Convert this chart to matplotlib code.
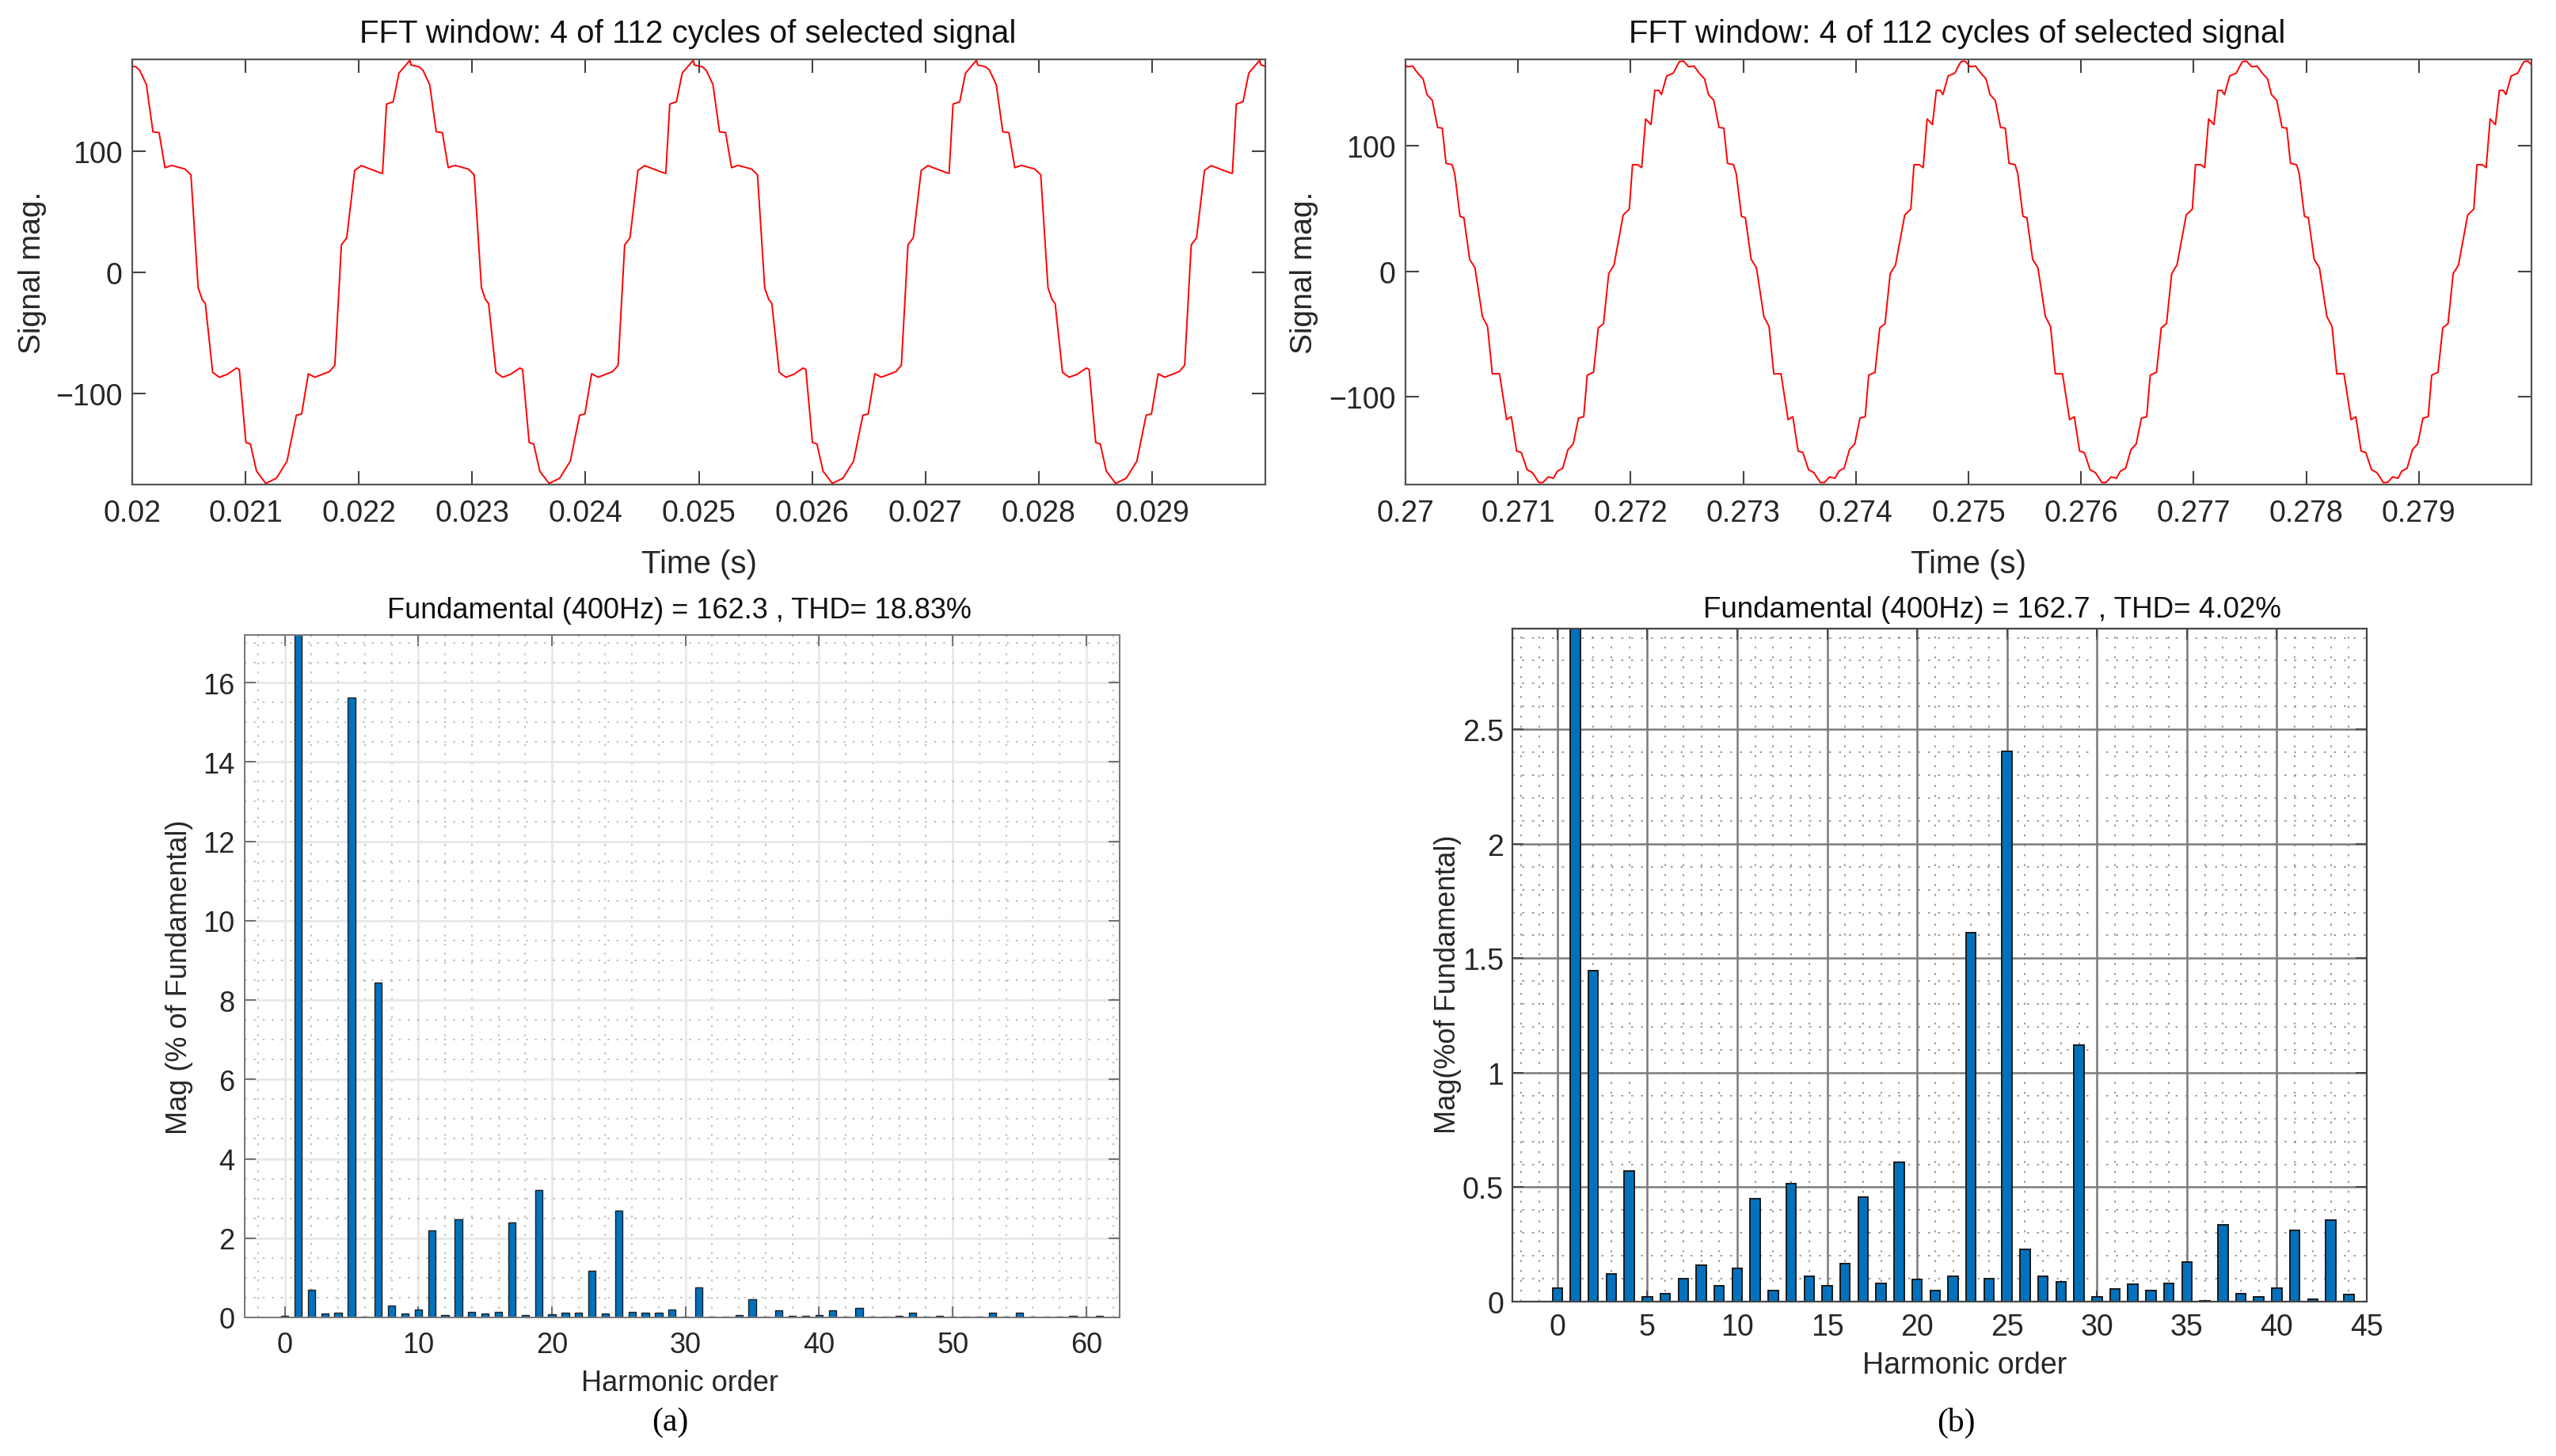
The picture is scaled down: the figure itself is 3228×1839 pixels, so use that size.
import matplotlib
matplotlib.use('Agg')
import matplotlib.pyplot as plt
import numpy as np
from matplotlib.ticker import MultipleLocator

plt.rcParams['font.family'] = ['Liberation Sans', 'DejaVu Sans']

# ---- waveform (a): one 400 Hz cycle, time in ms from cycle start
period = 0.0025
cycle_a_ms = [0.000, 0.070, 0.105, 0.164, 0.222, 0.276, 0.328, 0.386, 0.504, 0.557,
              0.621, 0.656, 0.684, 0.749, 0.808, 0.878, 0.960, 0.984, 1.042, 1.082,
              1.136, 1.218, 1.311, 1.405, 1.487, 1.534, 1.593, 1.651, 1.780, 1.827,
              1.885, 1.932, 2.002, 2.061, 2.225, 2.248, 2.283, 2.342, 2.393, 2.490]
cycle_a_val = [171.3, 169.9, 167.0, 155.2, 116.2, 115.5, 86.6, 88.5, 85.5, 80.7,
               -12.6, -22.1, -25.6, -82.4, -86.4, -84.0, -78.8, -80.0, -140.3, -141.5,
               -164.0, -174.1, -169.8, -155.7, -117.8, -116.7, -83.6, -86.4, -81.7, -76.5,
               22.8, 28.7, 84.3, 88.3, 82.4, 81.9, 139.1, 141.0, 164.7, 175.3]
start_a = 0.019961

# ---- waveform (b)
cycle_b_ms = [0.000, 0.035, 0.082, 0.129, 0.175, 0.222, 0.257, 0.304, 0.351, 0.393,
              0.426, 0.480, 0.503, 0.550, 0.585, 0.636, 0.683, 0.749, 0.795, 0.837,
              0.901, 0.964, 1.006, 1.053, 1.095, 1.146, 1.193, 1.251, 1.287, 1.333,
              1.380, 1.415, 1.462, 1.509, 1.556, 1.602, 1.649, 1.680, 1.736, 1.778,
              1.825, 1.871, 1.918, 2.000, 2.054, 2.082, 2.129, 2.164, 2.199, 2.246,
              2.281, 2.316, 2.339, 2.386, 2.444, 2.484]
cycle_b_val = [167.2, 167.6, 163.1, 163.7, 158.0, 153.5, 140.9, 136.4, 114.7, 114.2,
               86.1, 85.0, 78.1, 43.9, 42.7, 9.6, 2.8, -36.0, -44.0, -81.7,
               -81.7, -118.2, -115.9, -143.3, -144.5, -158.2, -160.5, -168.4, -168.4, -163.9,
               -165.0, -159.3, -157.0, -142.2, -137.6, -117.1, -115.9, -82.8, -80.5, -45.1,
               -41.7, -1.8, 5.1, 45.0, 49.6, 85.0, 85.0, 82.7, 121.5, 117.0,
               144.3, 144.3, 140.9, 155.8, 158.0, 164.9]
start_b = 0.269934

# ---- harmonic spectra (% of fundamental)
harm_a = [0.03, 100, 0.70, 0.10, 0.12, 15.62, 0.02, 8.45, 0.30, 0.10,
          0.20, 2.20, 0.05, 2.48, 0.14, 0.10, 0.14, 2.40, 0.06, 3.22,
          0.07, 0.12, 0.12, 1.18, 0.10, 2.70, 0.14, 0.12, 0.12, 0.20,
          0.02, 0.75, 0.01, 0.01, 0.06, 0.45, 0.01, 0.18, 0.04, 0.04,
          0.05, 0.17, 0.02, 0.23, 0.02, 0.02, 0.04, 0.12, 0.01, 0.04,
          0.02, 0.02, 0.02, 0.12, 0.02, 0.12, 0.02, 0.02, 0.02, 0.04,
          0.02, 0.03]
harm_b = [0.06, 100, 1.446, 0.12, 0.57, 0.02, 0.036, 0.10, 0.16, 0.07,
          0.145, 0.45, 0.05, 0.516, 0.11, 0.07, 0.165, 0.455, 0.08, 0.61,
          0.097, 0.05, 0.11, 1.613, 0.10, 2.403, 0.228, 0.11, 0.087, 1.12,
          0.02, 0.056, 0.075, 0.048, 0.08, 0.174, 0.003, 0.334, 0.036, 0.02,
          0.058, 0.31, 0.01, 0.356, 0.03]

time_ticks_a = [0.020, 0.021, 0.022, 0.023, 0.024, 0.025, 0.026, 0.027, 0.028, 0.029]
time_labels_a = ['0.02', '0.021', '0.022', '0.023', '0.024', '0.025', '0.026', '0.027', '0.028', '0.029']
time_ticks_b = [0.270, 0.271, 0.272, 0.273, 0.274, 0.275, 0.276, 0.277, 0.278, 0.279]
time_labels_b = ['0.27', '0.271', '0.272', '0.273', '0.274', '0.275', '0.276', '0.277', '0.278', '0.279']
mag_ticks_b = [0, 0.5, 1, 1.5, 2, 2.5]
mag_labels_b = ['0', '0.5', '1', '1.5', '2', '2.5']

title_top = 'FFT window: 4 of 112 cycles of selected signal'
title_a = 'Fundamental (400Hz) = 162.3 , THD= 18.83%'
title_b = 'Fundamental (400Hz) = 162.7 , THD= 4.02%'


def build_wave(cycle_ms, cycle_val, t_first, n=5):
    t = np.concatenate([t_first + k * period + np.array(cycle_ms) / 1000.0 for k in range(n)])
    v = np.tile(cycle_val, n)
    return t, v


W, H = 3228, 1840
fig = plt.figure(figsize=(W / 100, H / 100), dpi=100)


def box(l, t, r, b):
    return [l / W, 1 - b / H, (r - l) / W, (b - t) / H]


FS = 26
FS_TOP = 29
DOTS = (0, (1.5, 6))   # MATLAB-like sparse dotted minor grid

# ---------------- top waveforms
for spec, cyc_t, cyc_v, t0, ticks, labels, lims in [
        (box(167, 76, 1598, 613), cycle_a_ms, cycle_a_val, start_a, time_ticks_a, time_labels_a, (-175, 176)),
        (box(1775, 76, 3197, 613), cycle_b_ms, cycle_b_val, start_b, time_ticks_b, time_labels_b, (-170, 169))]:
    ax = fig.add_axes(spec)
    t, v = build_wave(cyc_t, cyc_v, t0)
    ax.plot(t, v, color='#ff0000', lw=1.4)
    ax.set_xlim(ticks[0], ticks[0] + 0.01)
    ax.set_ylim(*lims)
    ax.set_xticks(ticks)
    ax.set_xticklabels(labels)
    ax.set_yticks([-100, 0, 100])
    ax.tick_params(direction='in', top=True, right=True, length=12, width=1.5,
                   color='#444444', labelsize=27, labelcolor='#262626')
    ax.tick_params(axis='x', pad=13)
    ax.tick_params(axis='y', pad=9)
    for s in ax.spines.values():
        s.set_color('#555555')
        s.set_linewidth(1.6)
    ax.set_xlabel('Time (s)', fontsize=FS_TOP, color='#262626')
    ax.xaxis.set_label_coords(0.5, -0.186)
    ax.xaxis.label.set_va('center')
    ax.set_ylabel('Signal mag.', fontsize=28, color='#262626')
    ax.yaxis.label.set_va('center')
    ax.text(0.49, 1.061, title_top, transform=ax.transAxes, ha='center', va='center',
            fontsize=FS_TOP, color='#111111')
    if ticks[0] < 0.1:
        ax.yaxis.set_label_coords((41 - 167) / 1431, 0.5)
    else:
        ax.yaxis.set_label_coords((1647 - 1775) / 1422, 0.5)

# ---------------- spectrum (a)
ax = fig.add_axes(box(309, 803, 1414, 1665))
ax.set_axisbelow(True)
ax.bar(np.arange(len(harm_a)), harm_a, width=0.55, color='#0072BD',
       edgecolor='#1f1f1f', linewidth=1.0)
ax.set_xlim(-3, 62.5)
ax.set_ylim(0, 17.2)
ax.xaxis.set_major_locator(MultipleLocator(10))
ax.xaxis.set_minor_locator(MultipleLocator(2))
ax.yaxis.set_major_locator(MultipleLocator(2))
ax.yaxis.set_minor_locator(MultipleLocator(0.5))
ax.grid(which='major', color='#e8e8e8', lw=2.0, ls='-')
ax.grid(which='minor', color='#a9a9a9', lw=1.1, ls=DOTS)
ax.tick_params(which='major', direction='in', top=True, right=True, length=10, width=1.3,
               color='#666666', labelsize=FS, labelcolor='#262626')
ax.tick_params(which='minor', length=0)
ax.tick_params(axis='x', pad=12)
ax.tick_params(axis='y', pad=9)
for s in ax.spines.values():
    s.set_color('#777777')
    s.set_linewidth(1.4)
ax.set_xlabel('Harmonic order', fontsize=FS, color='#262626')
ax.xaxis.set_label_coords(0.497, -0.096)
ax.xaxis.label.set_va('center')
ax.set_ylabel('Mag (% of Fundamental)', fontsize=FS, color='#262626')
ax.yaxis.label.set_va('center')
ax.yaxis.set_label_coords((226 - 309) / 1105, 0.5)
ax.text(0.497, 1.036, title_a, transform=ax.transAxes, ha='center', va='center',
        fontsize=FS, color='#111111')

# ---------------- spectrum (b)
ax = fig.add_axes(box(1910, 795, 2989, 1645))
ax.set_axisbelow(True)
ax.bar(np.arange(len(harm_b)), harm_b, width=0.55, color='#0072BD',
       edgecolor='#1a1a1a', linewidth=1.4)
ax.set_xlim(-2.5, 45)
ax.set_ylim(0, 2.94)
ax.xaxis.set_major_locator(MultipleLocator(5))
ax.xaxis.set_minor_locator(MultipleLocator(1))
ax.set_yticks(mag_ticks_b)
ax.set_yticklabels(mag_labels_b)
ax.yaxis.set_minor_locator(MultipleLocator(0.1))
ax.grid(which='major', color='#7a7a7a', lw=1.8, ls='-')
ax.grid(which='minor', color='#8a8a8a', lw=1.2, ls=DOTS)
ax.tick_params(which='major', direction='in', top=True, right=True, length=10, width=1.3,
               color='#444444', labelsize=27, labelcolor='#262626')
ax.tick_params(which='minor', length=0)
ax.tick_params(axis='x', pad=10)
ax.tick_params(axis='y', pad=8)
for s in ax.spines.values():
    s.set_color('#444444')
    s.set_linewidth(1.6)
ax.set_xlabel('Harmonic order', fontsize=27, color='#262626')
ax.xaxis.set_label_coords(0.529, -0.094)
ax.xaxis.label.set_va('center')
ax.set_ylabel('Mag(%of Fundamental)', fontsize=FS, color='#262626')
ax.yaxis.label.set_va('center')
ax.yaxis.set_label_coords((1828 - 1910) / 1079, 0.473)
ax.text(0.562, 1.029, title_b, transform=ax.transAxes, ha='center', va='center',
        fontsize=26.5, color='#111111')

# panel captions
fig.text(846 / W, 1 - 1797 / H, '(a)', ha='center', va='center', fontsize=30,
         family=['Liberation Serif', 'DejaVu Serif'])
fig.text(2470 / W, 1 - 1797 / H, '(b)', ha='center', va='center', fontsize=30,
         family=['Liberation Serif', 'DejaVu Serif'])

fig.savefig('out.png', dpi=100, facecolor='white')
